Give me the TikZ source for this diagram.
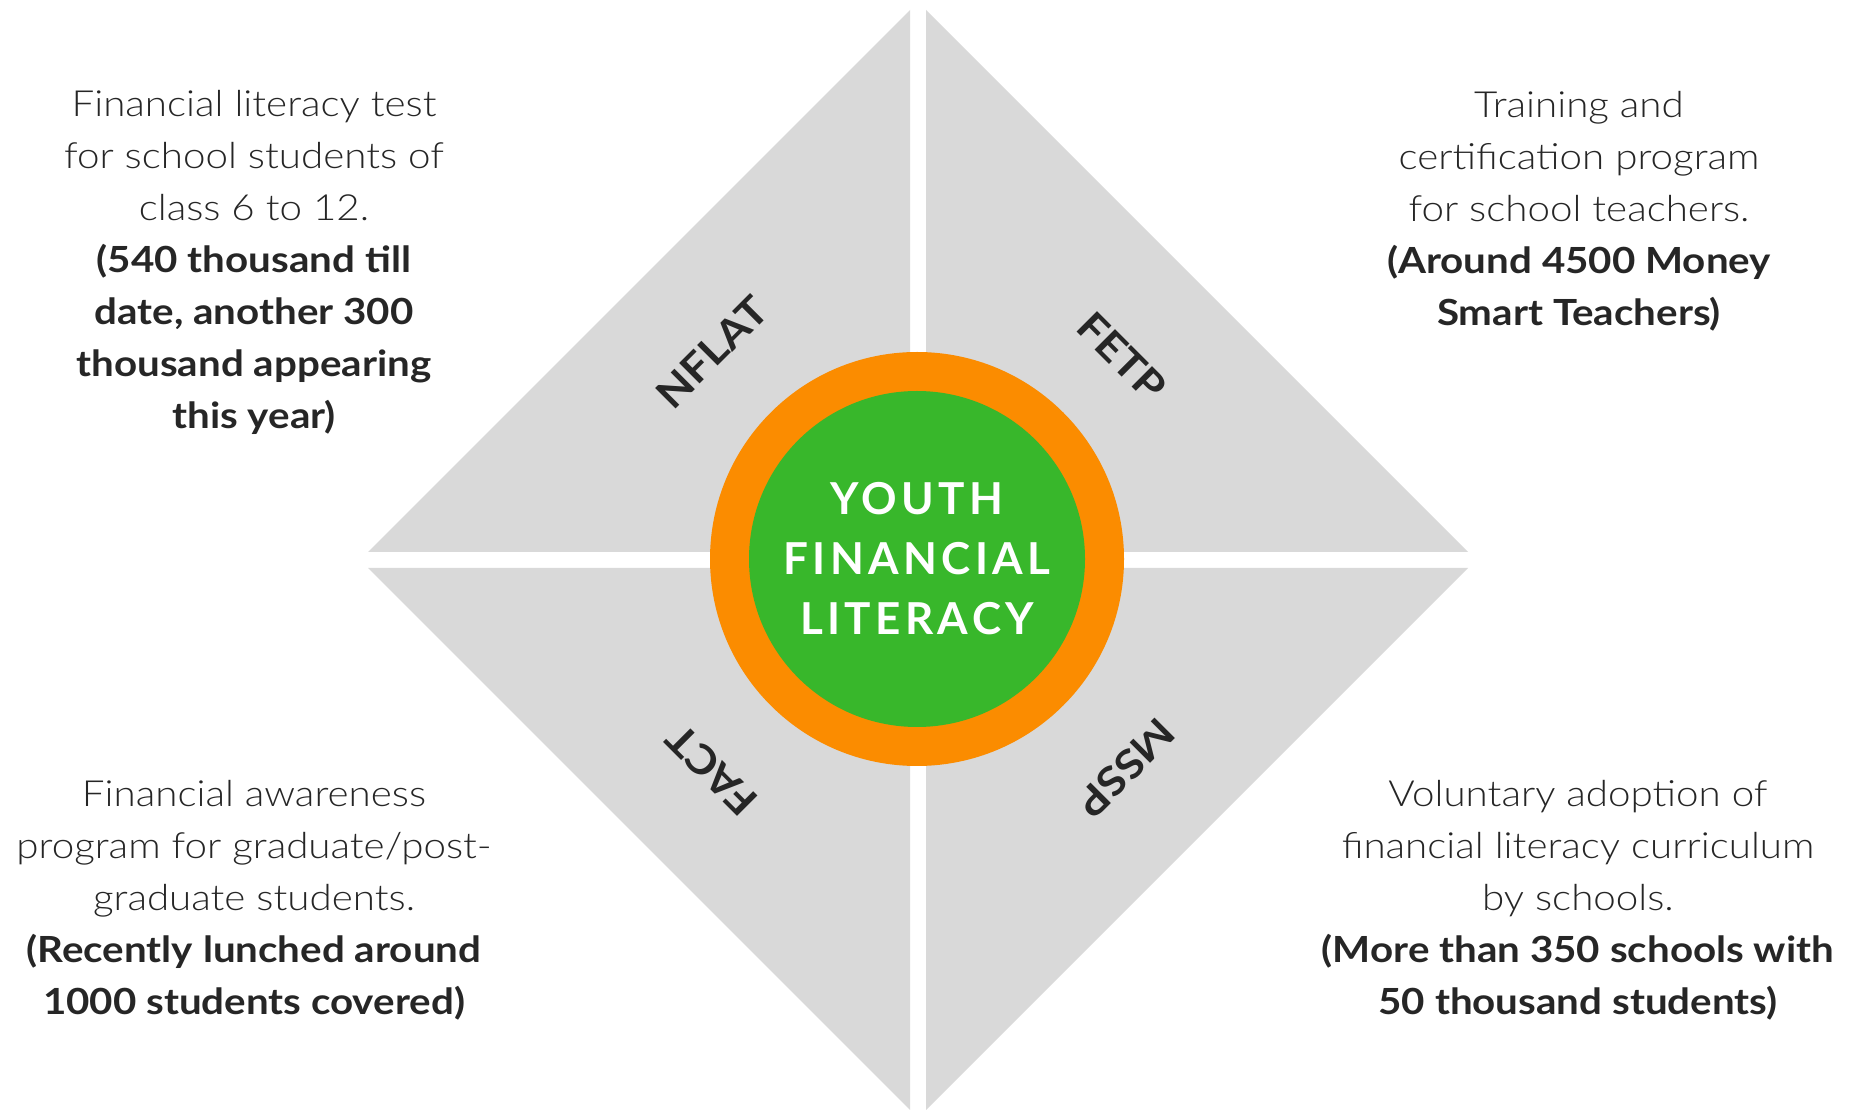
\documentclass[tikz,border=0pt]{standalone}
\usepackage{fontspec}
\setmainfont{Lato}[UprightFont=* Light, BoldFont=* Bold, FakeStretch=1.12]
\newfontfamily\hubfont{Lato Bold}[LetterSpace=10]
\usetikzlibrary{positioning}
\definecolor{PanelGrey}{RGB}{217,217,217}
\definecolor{RingOrange}{RGB}{251,140,0}
\definecolor{HubGreen}{RGB}{56,183,43}
\definecolor{InkGrey}{RGB}{38,38,38}

\begin{document}
\begin{tikzpicture}[
    x=0.5pt, y=0.5pt,
    quadrant/.style={fill=PanelGrey, draw=none},
    ring/.style={circle, fill=RingOrange, minimum size=207pt, inner sep=0pt},
    hub/.style={circle, fill=HubGreen, minimum size=168pt, inner sep=0pt, text=white, align=center, font=\hubfont\fontsize{22}{30}\selectfont},
    tag/.style={text=InkGrey, inner sep=0pt, font=\bfseries\fontsize{20}{22}\selectfont},
    info/.style={text=InkGrey, inner sep=0pt, align=center, font=\fontsize{18}{26}\selectfont}
  ]
  \useasboundingbox (0,0) rectangle (1852,1109);

  % four quarters of the diamond
  \fill[quadrant] (910,557) -- (910,1099) -- (368,557) -- cycle;
  \fill[quadrant] (926,557) -- (926,1099) -- (1468,557) -- cycle;
  \fill[quadrant] (910,541) -- (910,-1) -- (368,541) -- cycle;
  \fill[quadrant] (926,541) -- (926,-1) -- (1468,541) -- cycle;

  \node (ring) [ring] at (917,550) {};
  \node (hub) [hub] at (ring.center) {YOUTH\\FINANCIAL\\LITERACY};

  \node (nflat) [tag, rotate=45] at (712,757) {NFLAT};
  \node (fetp) [tag, rotate=-45] at (1122,752) {FETP};
  \node (fact) [tag, rotate=135] at (712,339) {FACT};
  \node (mssp) [tag, rotate=-135] at (1126,341) {MSSP};

  \node (nflatinfo) [info] at (254,847) {Financial literacy test\\for school students of\\class 6 to 12.\\\textbf{(540 thousand till}\\\textbf{date, another 300}\\\textbf{thousand appearing}\\\textbf{this year)}};
  \node (fetpinfo) [info] at (1579,898) {Training and\\certification program\\for school teachers.\\\textbf{(Around 4500 Money}\\\textbf{Smart Teachers)}};
  \node (factinfo) [info] at (254,209) {Financial awareness\\program for graduate/post-\\graduate students.\\\textbf{(Recently lunched around}\\\textbf{1000 students covered)}};
  \node (msspinfo) [info] at (1578,209) {Voluntary adoption of\\financial literacy curriculum\\by schools.\\\textbf{(More than 350 schools with}\\\textbf{50 thousand students)}};
\end{tikzpicture}
\end{document}
